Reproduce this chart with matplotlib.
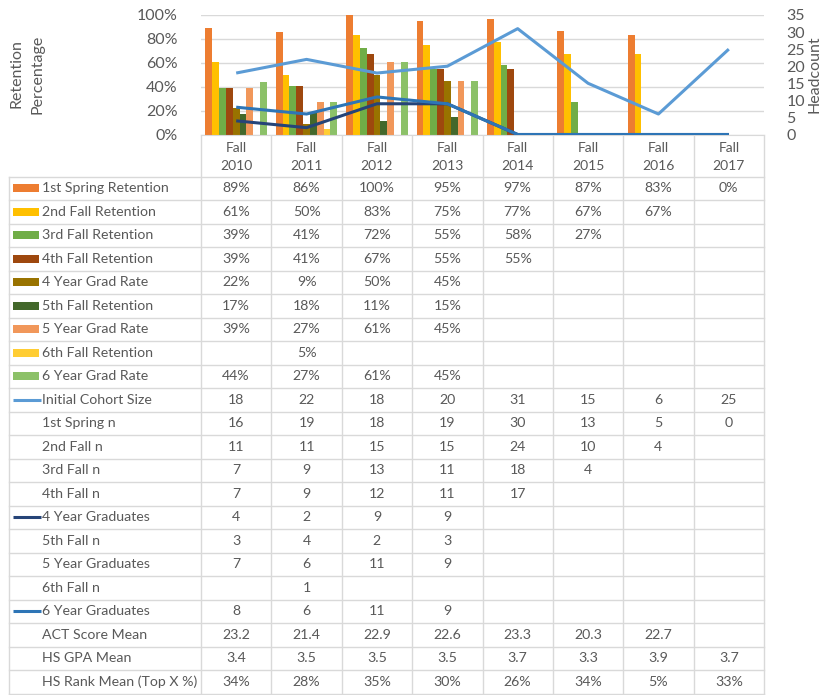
import matplotlib.pyplot as plt
import numpy as np
from matplotlib.ticker import PercentFormatter

plt.rcParams['font.family'] = ['Lato', 'DejaVu Sans']

years = ["Fall 2010", "Fall 2011", "Fall 2012", "Fall 2013",
         "Fall 2014", "Fall 2015", "Fall 2016", "Fall 2017"]

# retention / grad rates (%), None = blank cell
spring1_ret = [89, 86, 100, 95, 97, 87, 83, 0]
fall2_ret = [61, 50, 83, 75, 77, 67, 67, None]
fall3_ret = [39, 41, 72, 55, 58, 27, None, None]
fall4_ret = [39, 41, 67, 55, 55, None, None, None]
grad4_rate = [22, 9, 50, 45, None, None, None, None]
fall5_ret = [17, 18, 11, 15, None, None, None, None]
grad5_rate = [39, 27, 61, 45, None, None, None, None]
fall6_ret = [None, 5, None, None, None, None, None, None]
grad6_rate = [44, 27, 61, 45, None, None, None, None]

# headcounts
cohort_size = [18, 22, 18, 20, 31, 15, 6, 25]
spring1_n = [16, 19, 18, 19, 30, 13, 5, 0]
fall2_n = [11, 11, 15, 15, 24, 10, 4, None]
fall3_n = [7, 9, 13, 11, 18, 4, None, None]
fall4_n = [7, 9, 12, 11, 17, None, None, None]
grads4 = [4, 2, 9, 9, None, None, None, None]
fall5_n = [3, 4, 2, 3, None, None, None, None]
grads5 = [7, 6, 11, 9, None, None, None, None]
fall6_n = [None, 1, None, None, None, None, None, None]
grads6 = [8, 6, 11, 9, None, None, None, None]

# incoming stats
act_mean = [23.2, 21.4, 22.9, 22.6, 23.3, 20.3, 22.7, None]
gpa_mean = [3.4, 3.5, 3.5, 3.5, 3.7, 3.3, 3.9, 3.7]
hs_rank = [34, 28, 35, 30, 26, 34, 5, 33]

bar_series = [
    ("1st Spring Retention", spring1_ret, "#ED7D31"),
    ("2nd Fall Retention", fall2_ret, "#FFC000"),
    ("3rd Fall Retention", fall3_ret, "#70AD47"),
    ("4th Fall Retention", fall4_ret, "#9E480E"),
    ("4 Year Grad Rate", grad4_rate, "#997300"),
    ("5th Fall Retention", fall5_ret, "#43682B"),
    ("5 Year Grad Rate", grad5_rate, "#F1975A"),
    ("6th Fall Retention", fall6_ret, "#FFCD33"),
    ("6 Year Grad Rate", grad6_rate, "#8CC168"),
]
line_series = {
    "Initial Cohort Size": "#5B9BD5",
    "4 Year Graduates": "#264478",
    "6 Year Graduates": "#2E75B6",
}

# table rows: (label, values, format)
rows = [(name, vals, "pct") for name, vals, _ in bar_series] + [
    ("Initial Cohort Size", cohort_size, "int"),
    ("1st Spring n", spring1_n, "int"),
    ("2nd Fall n", fall2_n, "int"),
    ("3rd Fall n", fall3_n, "int"),
    ("4th Fall n", fall4_n, "int"),
    ("4 Year Graduates", grads4, "int"),
    ("5th Fall n", fall5_n, "int"),
    ("5 Year Graduates", grads5, "int"),
    ("6th Fall n", fall6_n, "int"),
    ("6 Year Graduates", grads6, "int"),
    ("ACT Score Mean", act_mean, "dec"),
    ("HS GPA Mean", gpa_mean, "dec"),
    ("HS Rank Mean (Top X %)", hs_rank, "pct"),
]

W, H = 825, 695
GRID = "#D9D9D9"
TXT = "#595959"


def fmt(v, kind):
    if v is None:
        return ""
    if kind == "pct":
        return f"{v:.0f}%"
    if kind == "dec":
        return f"{v:.1f}"
    return f"{v:d}"


def blank_as_zero(vals):
    return np.array([0 if v is None else v for v in vals], dtype=float)


fig = plt.figure(figsize=(W / 100, H / 100), dpi=100)

# plot area in pixels
px_l, px_r, px_t, px_b = 201, 764, 15, 134.5
ax = fig.add_axes([px_l / W, 1 - px_b / H, (px_r - px_l) / W, (px_b - px_t) / H])
x = np.arange(len(years))
n = len(bar_series)
bw = 0.097
for i, (name, vals, color) in enumerate(bar_series):
    ax.bar(x + (i - (n - 1) / 2) * bw, blank_as_zero(vals), bw, color=color, zorder=2)
ax.set_xlim(-0.5, len(years) - 0.5)
ax.set_ylim(0, 100)
ax.set_yticks(np.arange(0, 101, 20))
ax.yaxis.set_major_formatter(PercentFormatter(decimals=0))
ax.grid(axis="y", color=GRID, lw=1, zorder=0)
ax.set_xticks([])
for s in ["top", "left", "right"]:
    ax.spines[s].set_visible(False)
ax.spines["bottom"].set_color(GRID)
ax.tick_params(axis="y", length=0, labelsize=11.5, labelcolor=TXT, pad=17)

ax2 = ax.twinx()
lines = {"Initial Cohort Size": cohort_size, "4 Year Graduates": grads4,
         "6 Year Graduates": grads6}
for name, vals in lines.items():
    ax2.plot(x, blank_as_zero(vals), color=line_series[name], lw=2.2,
             solid_capstyle="butt")
ax2.set_ylim(0, 35)
ax2.set_yticks(np.arange(0, 36, 5))
for s in ax2.spines.values():
    s.set_visible(False)
ax2.tick_params(axis="y", length=0, labelsize=11.5, labelcolor=TXT, pad=16)

fig.text(27 / W, 1 - 74 / H, "Retention\nPercentage", rotation=90, ha="center",
         va="center", fontsize=11.5, color=TXT, linespacing=1.65)
fig.text(815 / W, 1 - 74 / H, "Headcount", rotation=90, ha="center",
         va="center", fontsize=11.5, color=TXT)

# data table drawn in pixel coordinates
ov = fig.add_axes([0, 0, 1, 1], zorder=-1)
ov.set_xlim(0, W)
ov.set_ylim(H, 0)
ov.axis("off")

col_w = (px_r - px_l) / len(years)
col_x = [px_l + col_w * k for k in range(len(years) + 1)]
tbl_top, row_h = 176.5, 23.5
tbl_bot = tbl_top + row_h * len(rows)
tbl_left = 9

for cx in col_x:
    ov.plot([cx, cx], [px_b, tbl_bot], color=GRID, lw=1)
ov.plot([tbl_left, tbl_left], [tbl_top, tbl_bot], color=GRID, lw=1)
for r in range(len(rows) + 1):
    y = tbl_top + r * row_h
    ov.plot([tbl_left, px_r], [y, y], color=GRID, lw=1)

for k, yr in enumerate(years):
    ov.text(col_x[k] + col_w / 2, 157, yr.replace(" ", "\n"), ha="center",
            va="center", fontsize=10, color=TXT, linespacing=1.5)

bar_colors = {name: c for name, _, c in bar_series}
for r, (name, vals, kind) in enumerate(rows):
    yc = tbl_top + (r + 0.5) * row_h
    if name in bar_colors:
        ov.add_patch(plt.Rectangle((13, yc - 4), 26, 8, color=bar_colors[name], lw=0))
    elif name in line_series:
        ov.plot([13, 41], [yc, yc], color=line_series[name], lw=2.2,
                solid_capstyle="butt")
    ov.text(42, yc, name, ha="left", va="center", fontsize=10.2, color=TXT)
    for k, v in enumerate(vals):
        ov.text(col_x[k] + col_w / 2, yc, fmt(v, kind), ha="center",
                va="center", fontsize=10.2, color=TXT)

fig.savefig("out.png", dpi=100, facecolor="white")
